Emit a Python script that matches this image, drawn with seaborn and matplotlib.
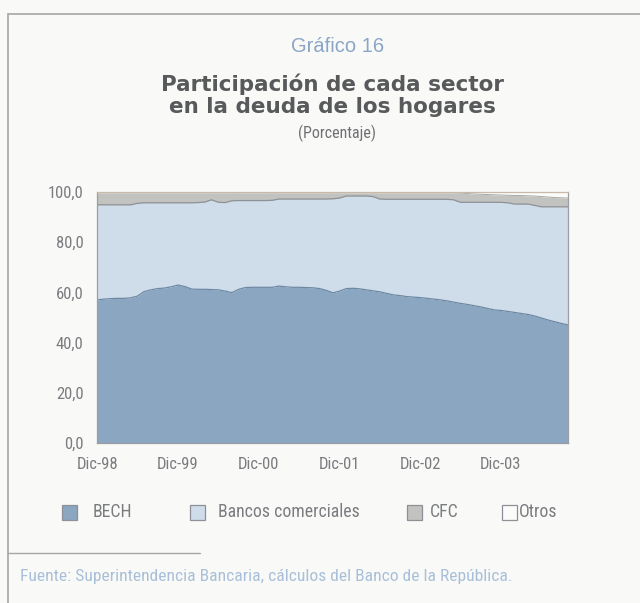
import matplotlib
matplotlib.use('Agg')
import matplotlib.pyplot as plt
import matplotlib.patches as mpatches
import matplotlib.lines as mlines
import matplotlib.ticker as mticker
import seaborn as sns
import pandas as pd

# Monthly shares (%), Dic-98 .. Oct-04
bech = [57.0, 57.3, 57.5, 57.6, 57.6, 57.8, 58.5, 60.3, 61.0, 61.5, 61.7, 62.2,
        62.9, 62.3, 61.3, 61.2, 61.2, 61.1, 61.0, 60.5, 59.9, 61.2, 61.9, 62.0,
        62.0, 62.0, 62.0, 62.5, 62.2, 62.0, 62.0, 61.9, 61.8, 61.5, 60.8, 59.8,
        60.5, 61.5, 61.6, 61.4, 61.0, 60.6, 60.2, 59.6, 59.0, 58.7, 58.3, 58.1,
        57.9, 57.6, 57.3, 57.0, 56.6, 56.1, 55.6, 55.2, 54.7, 54.2, 53.6, 53.0,
        52.8, 52.4, 52.0, 51.6, 51.2, 50.6, 49.8, 49.0, 48.3, 47.6, 47.0]
bancos = [37.8, 37.5, 37.3, 37.2, 37.2, 37.0, 36.9, 35.3, 34.6, 34.1, 33.9, 33.4,
          32.7, 33.3, 34.3, 34.5, 34.7, 35.7, 34.8, 35.2, 36.5, 35.3, 34.6, 34.5,
          34.5, 34.5, 34.6, 34.6, 34.9, 35.1, 35.1, 35.2, 35.3, 35.6, 36.3, 37.4,
          37.0, 36.8, 36.7, 36.9, 37.3, 37.5, 36.9, 37.4, 38.0, 38.3, 38.7, 38.9,
          39.1, 39.4, 39.7, 40.0, 40.4, 40.7, 40.2, 40.6, 41.1, 41.6, 42.2, 42.8,
          43.0, 43.2, 43.1, 43.5, 43.9, 44.0, 44.2, 45.0, 45.7, 46.4, 47.0]
cfc = [4.8, 4.8, 4.8, 4.8, 4.8, 4.8, 4.2, 4.0, 4.0, 4.0, 4.0, 4.0,
       4.0, 4.0, 4.0, 3.9, 3.7, 2.8, 3.8, 3.9, 3.2, 3.1, 3.1, 3.1,
       3.1, 3.1, 3.0, 2.5, 2.5, 2.5, 2.5, 2.5, 2.5, 2.5, 2.5, 2.4,
       2.1, 1.3, 1.3, 1.3, 1.3, 1.5, 2.5, 2.6, 2.6, 2.6, 2.6, 2.6,
       2.6, 2.6, 2.6, 2.6, 2.6, 2.8, 3.7, 3.5, 3.3, 3.2, 3.1, 3.0,
       2.9, 3.0, 3.4, 3.4, 3.3, 3.7, 4.1, 3.9, 3.7, 3.6, 3.5]
otros = [0.4] * 54 + [0.5, 0.7, 0.9, 1.0, 1.1, 1.2, 1.3, 1.4, 1.5, 1.5, 1.6,
                      1.7, 1.9, 2.1, 2.3, 2.4, 2.5]

dates = pd.date_range('1998-12-01', periods=len(bech), freq='MS')
tick_dates = pd.to_datetime(['1998-12-01', '1999-12-01', '2000-12-01',
                             '2001-12-01', '2002-12-01', '2003-12-01'])
tick_labels = ['Dic-98', 'Dic-99', 'Dic-00', 'Dic-01', 'Dic-02', 'Dic-03']
series_names = ['BECH', 'Bancos comerciales', 'CFC', 'Otros']
colors = ['#8aa6c1', '#cfdce9', '#c2c3c0', '#fbfbf9']

df = pd.DataFrame({'fecha': dates, 'BECH': bech, 'Bancos comerciales': bancos,
                   'CFC': cfc, 'Otros': otros})

sns.set_style('white')
plt.rcParams['font.family'] = ['Roboto Condensed', 'DejaVu Sans']

bg = '#f9faf7'
fig = plt.figure(figsize=(6.4, 6.03), dpi=100, facecolor=bg)
ax = fig.add_axes([0.152, 0.265, 0.736, 0.417])
ax.set_facecolor(bg)

ax.stackplot(df['fecha'], [df[c] for c in series_names], colors=colors,
             linewidth=0)
# boundary lines
df['top_bech'] = df['BECH']
df['top_bancos'] = df['BECH'] + df['Bancos comerciales']
df['top_cfc'] = df['top_bancos'] + df['CFC']
sns.lineplot(data=df, x='fecha', y='top_bech', color='#6d88a3', lw=0.9, ax=ax)
sns.lineplot(data=df, x='fecha', y='top_bancos', color='#8d9299', lw=0.9, ax=ax)
sns.lineplot(data=df, x='fecha', y='top_cfc', color='#a9a9a6', lw=0.7, ax=ax)

ax.set_xlim(dates[0], dates[-1])
ax.set_ylim(0, 100)
ax.set_xlabel('')
ax.set_ylabel('')
ax.set_yticks([0, 20, 40, 60, 80, 100])
ax.yaxis.set_major_formatter(mticker.FuncFormatter(lambda v, p: f'{v:.1f}'.replace('.', ',')))
ax.set_xticks(tick_dates)
ax.set_xticklabels(tick_labels)
ax.tick_params(axis='both', colors='#7a7c80', labelsize=12, direction='in',
               length=3, width=1)
ax.tick_params(axis='y', pad=10)
ax.tick_params(axis='x', pad=10)
for s in ax.spines.values():
    s.set_color('#9a9ea4')
    s.set_linewidth(0.9)
ax.spines['top'].set_color('#c9b9a8')

# titles
fig.text(0.527, 1 - 47 / 603, 'Gráfico 16', ha='center', va='center', fontsize=14.5,
         color='#8aa5c6', family=['Liberation Sans', 'DejaVu Sans'])
fig.text(0.52, 1 - 95.5 / 603, 'Participación de cada sector\nen la deuda de los hogares',
         ha='center', va='center', fontsize=15.5, fontweight='bold',
         color='#58595b', linespacing=1.15, family=['DejaVu Sans'])
fig.text(0.527, 1 - 133 / 603, '(Porcentaje)', ha='center', va='center', fontsize=11.5,
         color='#6e7074')

# legend
ly = 1 - 512 / 603
items = [(62, 93), (190, 218), (407, 430), (502, 519)]
for (px, tx), name, col in zip(items, series_names, colors):
    fig.add_artist(mpatches.Rectangle((px / 640, ly - 7.5 / 603), 15 / 640, 15 / 603,
                                      transform=fig.transFigure, facecolor=col,
                                      edgecolor='#8d9096', lw=0.9))
    fig.text(tx / 640, ly, name, ha='left', va='center', fontsize=12.8,
             color='#7a7c80')

# frame lines
fig.add_artist(mlines.Line2D([8 / 640, 1], [1 - 14 / 603] * 2,
                             transform=fig.transFigure, color='#a6a8a8', lw=1.2))
fig.add_artist(mlines.Line2D([8 / 640] * 2, [0, 1 - 14 / 603],
                             transform=fig.transFigure, color='#a6a8a8', lw=1.2))
fig.add_artist(mlines.Line2D([8 / 640, 200 / 640], [1 - 553 / 603] * 2,
                             transform=fig.transFigure, color='#a6a8a8', lw=1.0))

fig.text(20 / 640, 1 - 577 / 603,
         'Fuente: Superintendencia Bancaria, cálculos del Banco de la República.',
         ha='left', va='center', fontsize=12.6, color='#a9bfd9')

fig.savefig('out.png', dpi=100, facecolor=bg)
